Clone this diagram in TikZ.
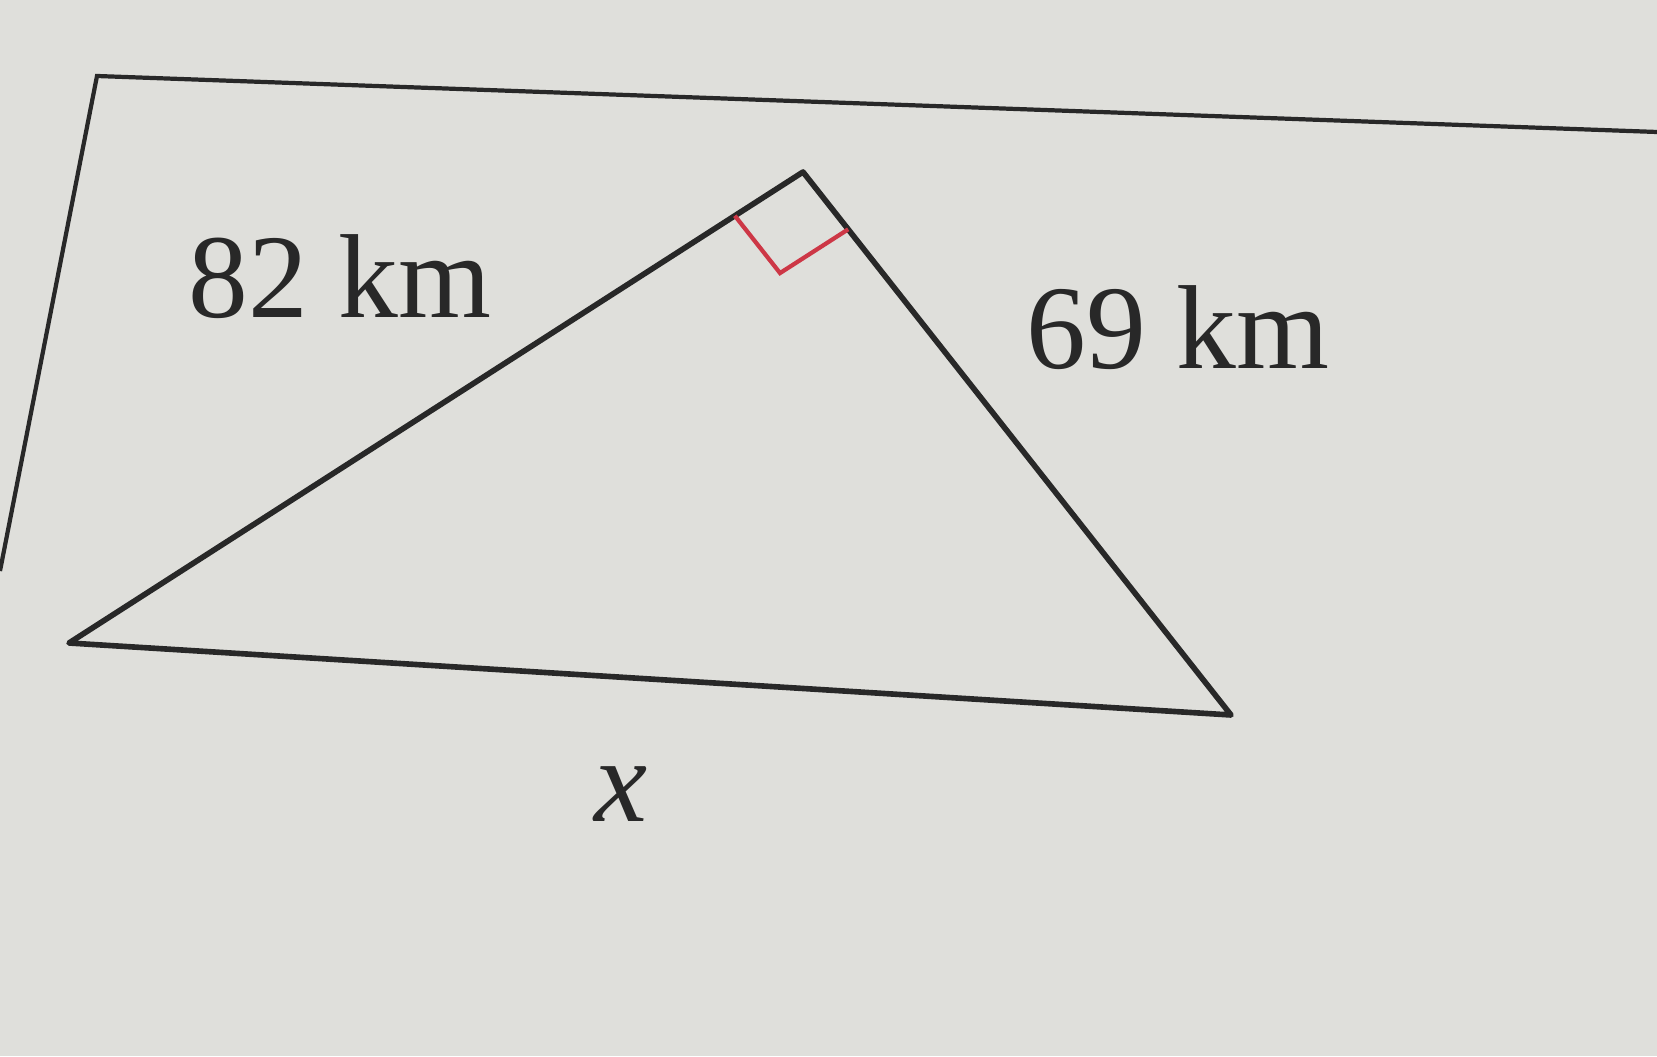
\documentclass[tikz,border=0pt]{standalone}
\usepackage{fontspec}
\setmainfont{Liberation Serif}
\usetikzlibrary{calc}
\definecolor{paper}{RGB}{223,223,219}
\definecolor{ink}{RGB}{40,40,40}
\definecolor{anglered}{RGB}{205,55,70}
\newcommand{\lbl}{\node[text=ink, font=\fontsize{34}{40}\selectfont, inner sep=0pt]}

\begin{document}
\begin{tikzpicture}
					\useasboundingbox[fill=paper] (0,0) rectangle (16.57,10.56);
					% sheet frame
					\coordinate (fl) at (0,4.85);
					\coordinate (ft) at (0.97,9.80);
					\coordinate (fr) at (16.57,9.24);
					\draw[ink, line width=1.2pt] (fl) -- (ft) -- (fr);
					% triangle
					\coordinate (a) at (8.03,8.84);
					\coordinate (b) at (0.69,4.13);
					\coordinate (c) at (12.31,3.41);
					\draw[ink, line width=1.6pt, line join=round] (a) -- (b) -- (c) -- cycle;
					% right angle
					\coordinate (p) at ($(a)!0.81cm!(b)$);
					\coordinate (q) at ($(a)!0.73cm!(c)$);
					\coordinate (r) at ($(p)+(q)-(a)$);
					\draw[anglered, line width=1.2pt] (p) -- (r) -- (q);
					% labels
					\lbl (ab) at (3.40,7.79) {82 km};
					\lbl (ac) at (11.78,7.28) {69 km};
					\lbl (bc) at (6.21,2.62) {\textit{x}};
				\end{tikzpicture}
\end{document}
